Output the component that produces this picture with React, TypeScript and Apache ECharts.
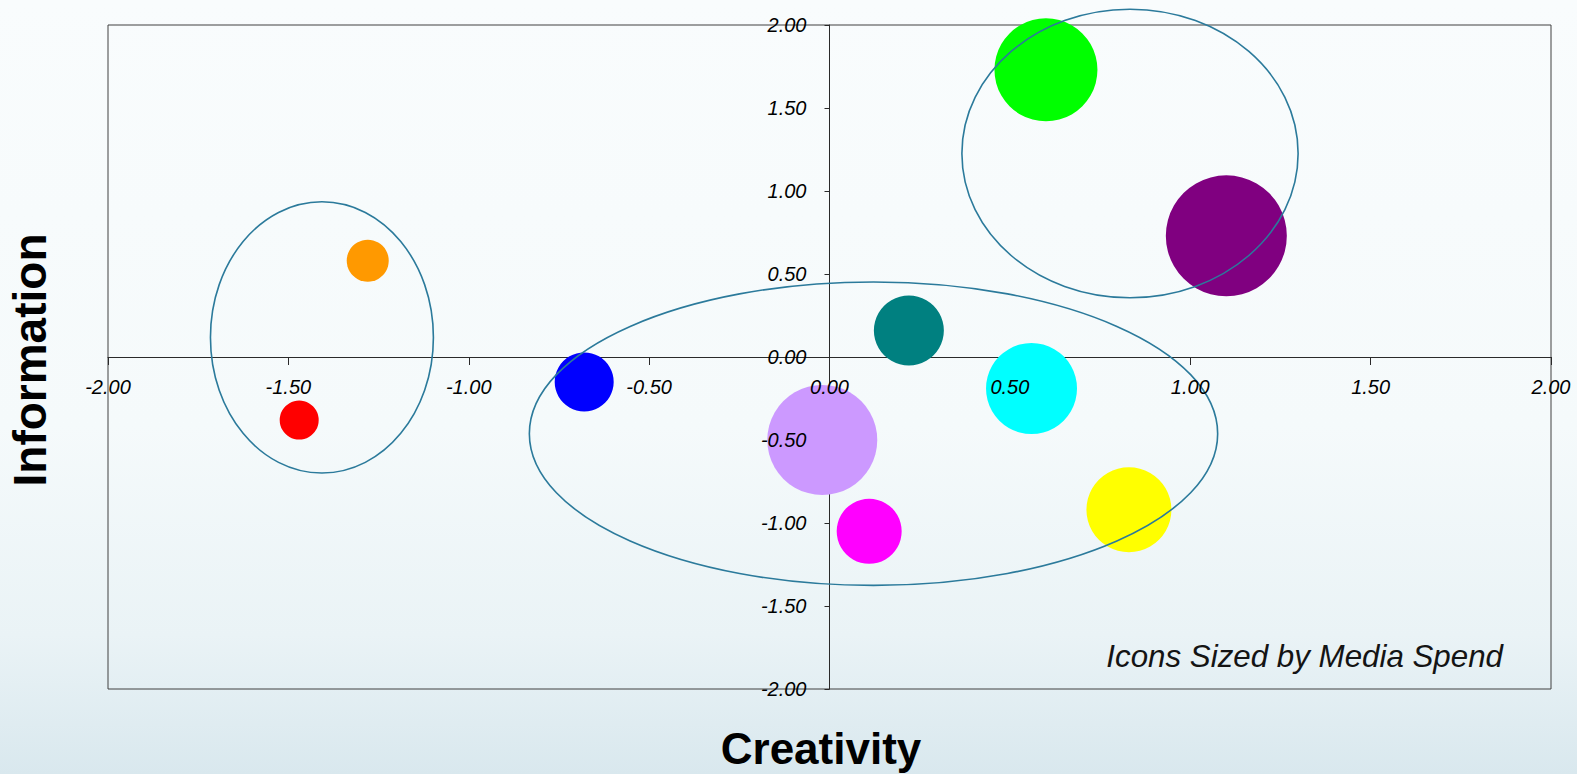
import React, { useEffect, useRef } from "react";
import * as echarts from "echarts";

// ---- data ----
const brands = ["Orange", "Red", "Blue", "Lavender", "Magenta", "Teal", "Cyan", "Yellow", "Green", "Purple"];
const creativity = [-1.28, -1.47, -0.68, -0.02, 0.11, 0.22, 0.56, 0.83, 0.6, 1.1];
const information = [0.58, -0.38, -0.15, -0.5, -1.05, 0.16, -0.19, -0.92, 1.73, 0.73];
const mediaSpend = [42, 39, 59, 110, 65, 70, 91, 85, 103, 121];
const brandColors = ["#FF9900", "#FF0000", "#0000FF", "#CC99FF", "#FF00FF", "#008080", "#00FFFF", "#FFFF00", "#00FF00", "#800080"];

// cluster outlines (centre and radii in data units)
const clusterCx = [-1.407, 0.833, 0.122];
const clusterCy = [0.118, 1.226, -0.462];
const clusterRx = [0.309, 0.466, 0.954];
const clusterRy = [0.817, 0.869, 0.914];

const axisMin = -2;
const axisMax = 2;
const axisStep = 0.5;

const FONT = '"Liberation Sans", Arial, Helvetica, sans-serif';

// layout
const GRID_LEFT = 108;
const GRID_RIGHT = 26;
const GRID_TOP = 25;
const GRID_BOTTOM = 85;
const W = 1577;
const H = 774;

export default function App() {
  const ref = useRef<HTMLDivElement>(null);

  useEffect(() => {
    if (!ref.current) return;
    const chart = echarts.init(ref.current, null, { renderer: "svg" });

    const bubbleData = brands.map((name, i) => ({
      name,
      value: [creativity[i], information[i], mediaSpend[i]],
      itemStyle: { color: brandColors[i], opacity: 1 },
    }));
    const clusterData = clusterCx.map((cx, i) => [cx, clusterCy[i], clusterRx[i], clusterRy[i]]);

    const fmt = (v: number) => v.toFixed(2);
    const labelStyle = {
      fontFamily: FONT,
      fontStyle: "italic" as const,
      fontSize: 20,
      color: "#000",
      formatter: fmt,
      showMinLabel: true,
      showMaxLabel: true,
    };

    const plotW = W - GRID_LEFT - GRID_RIGHT;
    const plotH = H - GRID_TOP - GRID_BOTTOM;
    // label axes are shifted onto the zero lines (centre of the symmetric range)
    const xLabelOffset = -plotH / 2;
    const yLabelOffset = -plotW / 2;

    const option: any = {
      animation: false,
      backgroundColor: "transparent",
      grid: {
        left: GRID_LEFT,
        right: GRID_RIGHT,
        top: GRID_TOP,
        bottom: GRID_BOTTOM,
        show: true,
        borderColor: "#404040",
        borderWidth: 1,
        backgroundColor: "transparent",
      },
      xAxis: [
        {
          type: "value",
          min: axisMin,
          max: axisMax,
          interval: axisStep,
          position: "bottom",
          axisLine: { show: true, onZero: true, lineStyle: { color: "#2a2a2a", width: 1 } },
          axisTick: { show: true, length: 8, lineStyle: { color: "#2a2a2a" } },
          axisLabel: { show: false },
          splitLine: { show: false },
          z: 0,
        },
        {
          type: "value",
          min: axisMin,
          max: axisMax,
          interval: axisStep,
          position: "bottom",
          offset: xLabelOffset,
          axisLine: { show: false, onZero: false },
          axisTick: { show: false },
          axisLabel: { ...labelStyle, margin: 20 },
          splitLine: { show: false },
          z: 10,
        },
      ],
      yAxis: [
        {
          type: "value",
          min: axisMin,
          max: axisMax,
          interval: axisStep,
          position: "left",
          axisLine: { show: true, onZero: true, lineStyle: { color: "#2a2a2a", width: 1 } },
          axisTick: { show: true, length: 5, lineStyle: { color: "#2a2a2a" } },
          axisLabel: { show: false },
          splitLine: { show: false },
          z: 0,
        },
        {
          type: "value",
          min: axisMin,
          max: axisMax,
          interval: axisStep,
          position: "left",
          offset: yLabelOffset,
          axisLine: { show: false, onZero: false },
          axisTick: { show: false },
          axisLabel: { ...labelStyle, margin: 23 },
          splitLine: { show: false },
          z: 10,
        },
      ],
      series: [
        {
          type: "scatter",
          xAxisIndex: 0,
          yAxisIndex: 0,
          data: bubbleData,
          symbol: "circle",
          symbolSize: (v: number[]) => v[2],
          itemStyle: { opacity: 1 },
          z: 2,
        },
        {
          type: "custom",
          xAxisIndex: 0,
          yAxisIndex: 0,
          data: clusterData,
          encode: { x: 0, y: 1 },
          clip: false,
          z: 3,
          silent: true,
          renderItem: (params: any, api: any) => {
            const c = api.coord([api.value(0), api.value(1)]);
            const s = api.size([api.value(2), api.value(3)]);
            return {
              type: "ellipse",
              shape: { cx: c[0], cy: c[1], rx: Math.abs(s[0]), ry: Math.abs(s[1]) },
              style: { fill: "none", stroke: "#2b7a9b", lineWidth: 1.6 },
            };
          },
        },
      ],
      graphic: [
        {
          type: "text",
          x: 30,
          y: 360,
          rotation: Math.PI / 2,
          style: {
            text: "Information",
            fontFamily: FONT,
            fontWeight: "bold",
            fontSize: 46,
            fill: "#000",
            align: "center",
            verticalAlign: "middle",
          },
        },
        {
          type: "text",
          x: 821,
          y: 748,
          style: {
            text: "Creativity",
            fontFamily: FONT,
            fontWeight: "bold",
            fontSize: 44,
            fill: "#000",
            align: "center",
            verticalAlign: "middle",
          },
        },
        {
          type: "text",
          x: 1503,
          y: 656,
          style: {
            text: "Icons Sized by Media Spend",
            fontFamily: FONT,
            fontStyle: "italic",
            fontSize: 31.3,
            fill: "#141414",
            align: "right",
            verticalAlign: "middle",
          },
        },
      ],
    };

    chart.setOption(option);
    return () => chart.dispose();
  }, []);

  return (
    <div
      ref={ref}
      style={{
        position: "fixed",
        left: 0,
        top: 0,
        width: W,
        height: H,
        background: "linear-gradient(to bottom, #f9fcfd 0%, #f5fafb 55%, #eaf3f6 82%, #d9e8ee 100%)",
      }}
    />
  );
}
